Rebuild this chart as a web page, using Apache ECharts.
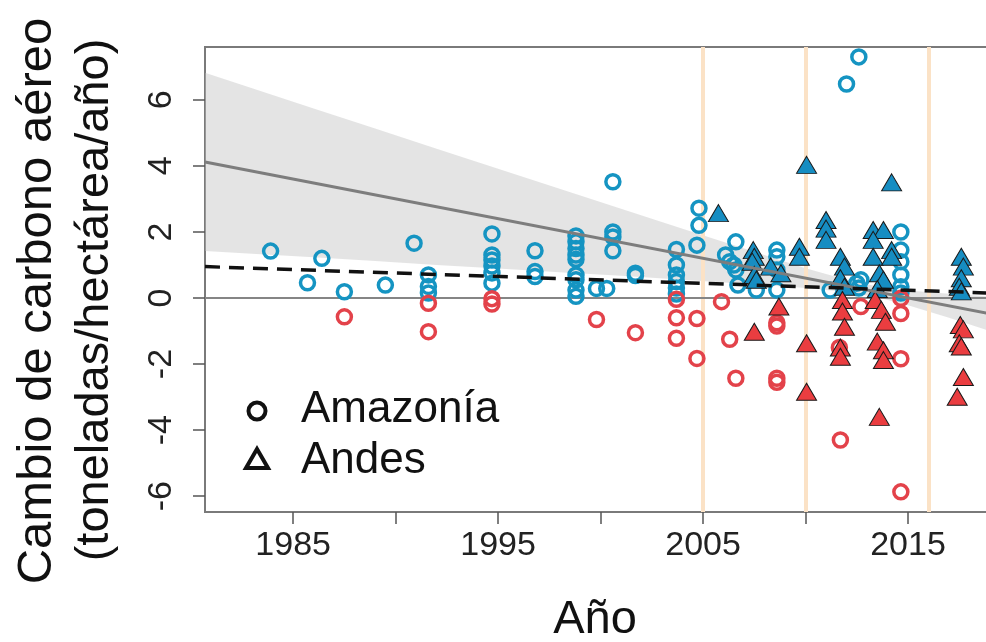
<!DOCTYPE html>
<html>
<head>
<meta charset="utf-8">
<script src="https://cdn.jsdelivr.net/npm/echarts@6/dist/echarts.min.js"></script>
<style>
html,body{margin:0;padding:0;background:#fff;}
#chart{width:986px;height:642px;}
</style>
</head>
<body>
<div id="chart"></div>
<script>
// ---- Data ----
const xTickValues = [1985, 1990, 1995, 2000, 2005, 2010, 2015];
const xLabelValues = [1985, 1995, 2005, 2015];
const yTickValues = [-6, -4, -2, 0, 2, 4, 6];
const periodYears = [2005, 2010, 2016];

const amazoniaGain = [
  [1983.9,1.42],[1985.7,0.46],[1986.4,1.2],[1987.5,0.19],[1989.5,0.39],[1990.9,1.66],
  [1991.6,0.7],[1991.6,0.35],[1991.6,0.15],
  [1994.7,1.94],[1994.7,1.3],[1994.7,1.15],[1994.7,0.97],[1994.7,0.76],[1994.7,0.45],
  [1996.8,1.43],[1996.8,0.8],[1996.8,0.65],
  [1998.8,1.88],[1998.8,1.7],[1998.8,1.5],[1998.8,1.3],[1998.8,1.17],[1998.8,0.7],[1998.8,0.55],[1998.8,0.24],[1998.8,0.05],
  [1999.8,0.29],[2000.3,0.29],
  [2000.6,3.52],[2000.6,2.0],[2000.6,1.85],[2000.6,1.43],
  [2001.7,0.75],[2001.7,0.68],
  [2003.7,1.47],[2003.7,1.0],[2003.7,0.7],[2003.7,0.5],[2003.7,0.3],[2003.7,0.12],
  [2004.8,2.72],[2004.8,2.2],[2004.7,1.6],
  [2006.6,1.7],[2006.1,1.3],[2006.3,1.1],[2006.5,1.0],[2006.6,0.85],[2006.7,0.39],
  [2007.6,0.24],
  [2008.6,1.45],[2008.6,1.25],[2008.6,0.85],[2008.6,0.24],
  [2011.2,0.24],
  [2012.0,6.48],[2012.6,7.3],
  [2012.7,0.55],[2012.5,0.45],[2012.6,0.3],
  [2014.65,2.0],[2014.65,1.45],[2014.65,1.1],[2014.65,0.7],[2014.65,0.34],[2014.65,0.15]
];
const amazoniaLoss = [
  [1987.5,-0.57],[1991.6,-0.16],[1991.6,-1.02],
  [1994.7,-0.02],[1994.7,-0.18],
  [1999.8,-0.65],[2001.7,-1.05],
  [2003.7,-0.04],[2003.7,-0.6],[2003.7,-1.22],
  [2004.7,-0.62],[2004.7,-1.83],
  [2005.9,-0.11],[2006.3,-1.25],[2006.6,-2.43],
  [2008.6,-0.75],[2008.6,-0.85],[2008.6,-2.43],[2008.6,-2.55],
  [2011.65,-1.5],[2011.7,-4.3],
  [2012.7,-0.26],
  [2014.65,-0.01],[2014.65,-0.47],[2014.65,-1.84],[2014.65,-5.87]
];
const andesGain = [
  [2005.75,2.57],
  [2007.45,1.45],[2007.5,1.25],[2007.4,1.1],[2007.5,0.7],[2007.6,0.55],
  [2008.3,0.95],[2008.8,0.75],
  [2009.7,1.55],[2009.7,1.25],
  [2010.05,4.03],
  [2011.0,2.36],[2011.0,2.1],[2011.0,1.76],
  [2011.7,1.25],[2011.9,0.95],[2011.7,0.6],[2011.9,0.34],
  [2013.3,2.06],[2013.8,2.06],[2013.3,1.76],[2013.3,1.25],[2014.2,1.45],[2014.2,1.25],
  [2013.6,0.75],[2013.8,0.55],[2013.5,0.27],
  [2014.2,3.5],
  [2017.6,1.25],[2017.7,0.95],[2017.6,0.6],[2017.5,0.34],[2017.6,0.2]
];
const andesLoss = [
  [2007.5,-1.02],[2008.7,-0.26],[2010.05,-1.37],[2010.05,-2.84],
  [2011.8,-0.06],[2011.8,-0.41],[2011.9,-0.87],[2011.7,-1.5],[2011.7,-1.78],
  [2013.4,-0.06],[2013.7,-0.36],[2013.9,-0.72],[2013.5,-1.32],[2013.8,-1.58],[2013.8,-1.88],[2013.6,-3.6],
  [2017.55,-0.82],[2017.7,-0.95],[2017.5,-1.37],[2017.6,-1.47],[2017.7,-2.39],[2017.4,-2.99]
];

// Regression lines and confidence band
const trendAll = [[1980.7,4.12],[2020,-0.6]];
const trendAmazonia = [[1980.7,0.95],[2020,0.13]];
const bandYears = [1980.7,1983,1986,1989,1992,1995,1998,2001,2004,2007,2010,2012,2013.5,2015,2017,2020];
const bandUpper = [6.82,6.35,5.74,5.13,4.52,3.91,3.31,2.70,2.10,1.50,0.90,0.55,0.35,0.23,0.13,0.0];
const bandLower = [1.42,1.34,1.23,1.12,1.00,0.89,0.78,0.67,0.55,0.43,0.30,0.18,0.02,-0.22,-0.60,-1.20];

const xMin = 1980.7, xMax = 2020, yMin = -6.48, yMax = 7.6;

const FONT = '"Liberation Sans", Arial, Helvetica, sans-serif';
const BLUE = '#1594c2', RED = '#e3424a';
const BLUE_FILL = '#168dc2', RED_FILL = '#ea3d40';

const chart = echarts.init(document.getElementById('chart'), null, {renderer: 'canvas'});

const option = {
  animation: false,
  backgroundColor: '#fff',
  grid: {left: 205, top: 47, height: 465, width: 805.5, outerBoundsMode: 'none', containLabel: false,
    show: true, borderColor: '#7a7a7a', borderWidth: 2, backgroundColor: 'transparent'},
  xAxis: {
    type: 'value', min: xMin, max: xMax,
    axisLine: {show: true, onZero: false, lineStyle: {color: '#7a7a7a', width: 2}},
    axisTick: {show: true, customValues: xTickValues, length: 12, lineStyle: {color: '#555', width: 1.5}},
    axisLabel: {show: true, customValues: xLabelValues, fontSize: 34, fontFamily: FONT, color: '#222', margin: 17,
      formatter: function (v) { return String(v); }},
    splitLine: {show: false}
  },
  yAxis: {
    type: 'value', min: yMin, max: yMax,
    axisLine: {show: true, onZero: false, lineStyle: {color: '#7a7a7a', width: 2}},
    axisTick: {show: true, customValues: yTickValues, length: 12, lineStyle: {color: '#555', width: 1.5}},
    axisLabel: {show: true, customValues: yTickValues, fontSize: 34, fontFamily: FONT, color: '#222', margin: 26, rotate: 90,
      formatter: function (v) { return String(v); }},
    splitLine: {show: false}
  },
  graphic: [
    {type: 'text', rotation: Math.PI/2, style: {text: 'Cambio de carbono aéreo', font: '49px ' + FONT, fill: '#111', align: 'center', verticalAlign: 'middle'}, x: 37, y: 301},
    {type: 'text', rotation: Math.PI/2, style: {text: '(toneladas/hectárea/año)', font: '47px ' + FONT, fill: '#111', align: 'center', verticalAlign: 'middle'}, x: 95, y: 300},
    {type: 'text', style: {text: 'Año', font: '47px ' + FONT, fill: '#111', align: 'center', verticalAlign: 'middle'}, x: 595, y: 620},
    {type: 'circle', shape: {cx: 257, cy: 411, r: 8.5}, style: {fill: 'none', stroke: '#111', lineWidth: 4}},
    {type: 'polygon', shape: {points: [[257, 449], [268, 468], [246, 468]]}, style: {fill: 'none', stroke: '#111', lineWidth: 4, lineJoin: 'miter'}},
    {type: 'text', style: {text: 'Amazonía', font: '44px ' + FONT, fill: '#111', align: 'left', verticalAlign: 'middle'}, x: 301, y: 410},
    {type: 'text', style: {text: 'Andes', font: '44px ' + FONT, fill: '#111', align: 'left', verticalAlign: 'middle'}, x: 301, y: 461}
  ],
  series: [
    {
      type: 'custom', z: 1, silent: true,
      data: [[bandYears[0], bandUpper[0]]],
      renderItem: function (params, api) {
        const pts = [];
        for (let i = 0; i < bandYears.length; i++) pts.push(api.coord([bandYears[i], bandUpper[i]]));
        for (let i = bandYears.length - 1; i >= 0; i--) pts.push(api.coord([bandYears[i], bandLower[i]]));
        return {type: 'polygon', shape: {points: pts}, style: {fill: 'rgba(190,190,190,0.42)', stroke: 'none'}};
      }
    },
    {
      type: 'line', data: [], z: 2, silent: true,
      markLine: {
        silent: true, symbol: 'none', label: {show: false},
        lineStyle: {color: '#fbe2c6', width: 4, type: 'solid'},
        data: periodYears.map(function (y) { return {xAxis: y}; })
      }
    },
    {
      type: 'line', data: [], z: 3, silent: true,
      markLine: {
        silent: true, symbol: 'none', label: {show: false},
        lineStyle: {color: '#858585', width: 2, type: 'solid'},
        data: [{yAxis: 0}]
      }
    },
    {type: 'scatter', data: amazoniaGain, z: 5, symbol: 'circle', symbolSize: 14,
      itemStyle: {color: 'rgba(0,0,0,0)', borderColor: BLUE, borderWidth: 3.5, opacity: 1}},
    {type: 'scatter', data: amazoniaLoss, z: 5, symbol: 'circle', symbolSize: 14,
      itemStyle: {color: 'rgba(0,0,0,0)', borderColor: RED, borderWidth: 3.5, opacity: 1}},
    {type: 'scatter', data: andesGain, z: 6, symbol: 'triangle', symbolSize: [20, 17],
      itemStyle: {color: BLUE_FILL, borderColor: '#1a1a1a', borderWidth: 1, opacity: 1}},
    {type: 'scatter', data: andesLoss, z: 6, symbol: 'triangle', symbolSize: [20, 17],
      itemStyle: {color: RED_FILL, borderColor: '#1a1a1a', borderWidth: 1, opacity: 1}},
    {type: 'line', data: trendAll, z: 8, symbol: 'none', silent: true,
      lineStyle: {color: '#7d7d7d', width: 3}},
    {type: 'line', data: trendAmazonia, z: 8, symbol: 'none', silent: true,
      lineStyle: {color: '#111', width: 3.5, type: [15, 9]}}
  ]
};
chart.setOption(option);
</script>
</body>
</html>
